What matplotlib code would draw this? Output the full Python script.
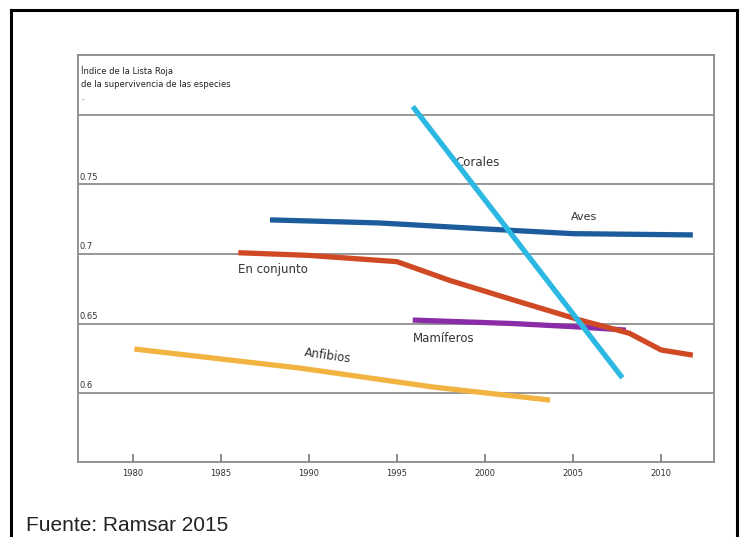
import matplotlib
matplotlib.use("Agg")
import matplotlib.pyplot as plt
from matplotlib.lines import Line2D

# ---- data ----
corales_x = [1995.9, 2007.8]
corales_y = [0.806, 0.611]

aves_x = [1987.8, 1994.0, 2000.0, 2005.0, 2011.8]
aves_y = [0.7245, 0.7223, 0.7180, 0.7146, 0.7137]

conj_x = [1986.0, 1990.0, 1995.0, 1998.0, 2001.6, 2005.4, 2008.2, 2010.0, 2011.8]
conj_y = [0.7009, 0.6990, 0.6945, 0.6810, 0.6670, 0.6525, 0.6430, 0.6310, 0.6273]

mam_x = [1995.9, 2001.6, 2005.4, 2008.0]
mam_y = [0.6525, 0.6500, 0.6475, 0.6453]

anf_x = [1980.1, 1989.5, 1997.1, 2003.7]
anf_y = [0.6317, 0.6180, 0.6043, 0.5950]

x_ticks = [1980, 1985, 1990, 1995, 2000, 2005, 2010]
x_tick_labels = ["1980", "1985", "1990", "1995", "2000", "2005", "2010"]
y_grid = [0.6, 0.65, 0.7, 0.75, 0.8]
y_tick_labels = ["0.6", "0.65", "0.7", "0.75", ""]

header = "Índice de la Lista Roja\nde la supervivencia de las especies\n."

# ---- figure ----
W, H = 747, 537
fig = plt.figure(figsize=(W / 100, H / 100), dpi=100)
fig.patch.set_facecolor("white")

# outer black frame (open at the bottom, cut by image edge)
x0, x1, yt = 11 / W, 737 / W, 1 - 10 / H
fig.add_artist(Line2D([x0, x0], [-0.05, yt], color="black", lw=2.2, transform=fig.transFigure))
fig.add_artist(Line2D([x0, x1], [yt, yt], color="black", lw=2.2, transform=fig.transFigure))
fig.add_artist(Line2D([x1, x1], [-0.05, yt], color="black", lw=2.2, transform=fig.transFigure))

ax = fig.add_axes([78 / W, (H - 462) / H, (714 - 78) / W, (462 - 55) / H])
ax.set_xlim(1976.9, 2013.0)
ax.set_ylim(0.5505, 0.843)

for s in ax.spines.values():
    s.set_color("#8a8a8a")
    s.set_linewidth(1.3)

for g in y_grid:
    ax.axhline(g, color="#8f8f8f", lw=1.3, zorder=1)

ax.set_yticks([])
ax.set_xticks(x_ticks)
ax.set_xticklabels(x_tick_labels, fontsize=6, color="#333333")
ax.tick_params(axis="x", direction="in", length=6, width=1.2, color="#777777", pad=5)

tr = ax.get_yaxis_transform()
for g, lab in zip(y_grid, y_tick_labels):
    ax.text(0.003, g + 0.002, lab, transform=tr, fontsize=6, color="#333333",
            ha="left", va="bottom")

ax.text(0.005, 0.975, header, transform=ax.transAxes, fontsize=6, color="#222222",
        ha="left", va="top", linespacing=1.6)

lw = 3.8
ax.plot(anf_x, anf_y, color="#f2b440", lw=lw, solid_capstyle="butt", zorder=3)
ax.plot(aves_x, aves_y, color="#1c5c9c", lw=lw, solid_capstyle="butt", zorder=3)
ax.plot(conj_x, conj_y, color="#cf4a24", lw=lw, solid_capstyle="butt", zorder=4)
ax.plot(mam_x, mam_y, color="#8a2ca8", lw=lw, solid_capstyle="butt", zorder=3)
ax.plot(corales_x, corales_y, color="#2bb8e2", lw=lw, solid_capstyle="butt", zorder=5)

tc = "#333333"
ax.text(1999.6, 0.766, "Corales", fontsize=8.5, color=tc, ha="center", va="center")
ax.text(2005.6, 0.7266, "Aves", fontsize=8, color=tc, ha="center", va="center")
ax.text(1986.0, 0.6885, "En conjunto", fontsize=8.5, color=tc, ha="left", va="center")
ax.text(1995.9, 0.6396, "Mamíferos", fontsize=8.5, color=tc, ha="left", va="center")
ax.text(1991.1, 0.627, "Anfibios", fontsize=8.5, color=tc, ha="center", va="center", rotation=-8)

fig.text(26 / W, 1 - 531 / H, "Fuente: Ramsar 2015", fontsize=15, color="#222222",
         family="Liberation Sans", ha="left", va="baseline")

fig.savefig("out.png", dpi=100)
